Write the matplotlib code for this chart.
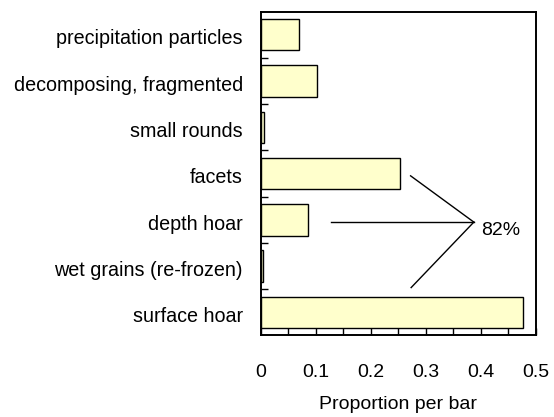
import numpy as np
import matplotlib.pyplot as plt

plt.rcParams['font.family'] = ['Liberation Sans', 'DejaVu Sans']

categories = ["surface hoar", "wet grains (re-frozen)", "depth hoar", "facets",
              "small rounds", "decomposing, fragmented", "precipitation particles"]
proportions = [0.477, 0.003, 0.085, 0.253, 0.005, 0.101, 0.069]
total_label = "82%"

fig = plt.figure(figsize=(5.54, 4.17), dpi=100)
ax = fig.add_axes([0.4711, 0.1966, 0.4964, 0.7746])

y = np.arange(len(categories))
ax.barh(y, proportions, height=0.68, color="#ffffcc", edgecolor="black", linewidth=1.0)

ax.set_xlim(0, 0.5)
ax.set_ylim(-0.49, 6.49)

# category labels at bar centres, ticks between bars
ax.set_yticks(y - 0.05)
ax.set_yticklabels(categories, fontsize=14.2)
ax.tick_params(axis="y", which="major", length=0, pad=13)
ax.set_yticks(y[:-1] + 0.5, minor=True)
ax.tick_params(axis="y", which="minor", direction="in", length=5, width=1)

ax.set_xticks(np.arange(0, 0.51, 0.1))
ax.set_xticklabels(["0", "0.1", "0.2", "0.3", "0.4", "0.5"], fontsize=14)
ax.set_xticks(np.arange(0.05, 0.5, 0.1), minor=True)
ax.tick_params(axis="x", which="both", direction="in", length=5, width=1, pad=21)
ax.set_xlabel("Proportion per bar", fontsize=14, labelpad=11)

for s in ax.spines.values():
    s.set_linewidth(1.4)

# bracket joining facets, depth hoar and surface hoar
tip = (0.387, 1.95)
ax.plot([0.272, tip[0]], [2.95, tip[1]], color="black", linewidth=1)
ax.plot([0.127, tip[0]], [tip[1], tip[1]], color="black", linewidth=1)
ax.plot([0.273, tip[0]], [0.535, tip[1]], color="black", linewidth=1)
ax.text(0.4, tip[1] - 0.19, total_label, fontsize=14, ha="left", va="center")

fig.savefig("out.png", dpi=100)
